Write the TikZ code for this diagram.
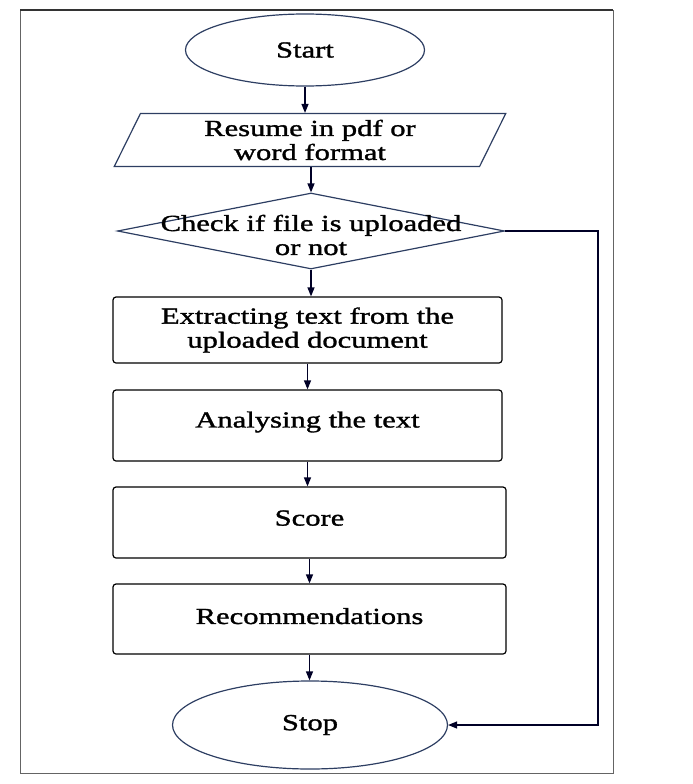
\documentclass[tikz,border=0pt]{standalone}
\usepackage{fontspec}
\setmainfont{Liberation Serif}[FakeStretch=1.33, FakeBold=1.4]
\usetikzlibrary{shapes.geometric,arrows.meta}
\definecolor{edgeblue}{RGB}{45,62,98}
\definecolor{framegray}{RGB}{100,100,100}
\begin{document}
\begin{tikzpicture}[
        x=1pt, y=-1pt,
        every node/.style={font=\fontsize{23}{24}\selectfont, align=center,
            line width=1.2pt, inner sep=0pt},
        term/.style={ellipse, draw=edgeblue},
        io/.style={trapezium, draw=edgeblue, trapezium left angle=68,
            trapezium right angle=112, trapezium stretches=true},
        decide/.style={diamond, draw=edgeblue},
        proc/.style={rectangle, draw=black, rounded corners=3pt,
            minimum width=#1},
        proc/.default=389pt,
        flow/.style={draw=black!85!blue, line width=1.2pt,
            -{Triangle[length=9pt, width=7pt]}}
    ]
        \useasboundingbox (0, 0) rectangle (693, 784);
        \draw[framegray, line width=1pt] (20, 10) -- (20, 773) -- (613, 773) -- (613, 10);
        \draw[black!80, line width=1.2pt] (20, 10) -- (613, 10);
        \node[term, minimum width=239pt, minimum height=72pt] (start) at (305, 50) {Start};
        \node[io, minimum width=392pt, minimum height=53pt] (resume) at (310, 140)
            {Resume in pdf or\\word format};
        \node[decide, minimum width=387pt, minimum height=76pt,
            label={[yshift=-4pt]center:{Check if file is uploaded\\or not}}] (check) at (311, 231) {\strut};
        \node[proc, minimum height=66pt] (extract) at (307.5, 330)
            {Extracting text from the\\uploaded document};
        \node[proc, minimum height=71pt, text depth=12pt] (analyse) at (307.5, 425.5) {Analysing the text};
        \node[proc=393pt, minimum height=71pt, text depth=9pt] (score) at (309.5, 522.5) {Score};
        \node[proc=393pt, minimum height=70pt, text depth=6pt] (recom) at (309.5, 619) {Recommendations};
        \node[term, minimum width=275pt, minimum height=88pt] (stop) at (310, 725) {Stop};
        \coordinate (side) at (598, 0);
        \draw[flow] (start.south) -- (start.south |- resume.north);
        \draw[flow] (resume.south -| check.north) -- (check.north);
        \draw[flow] (check.south) -- (check.south |- extract.north);
        \draw[flow] (extract.south) -- (extract.south |- analyse.north);
        \draw[flow] (analyse.south) -- (analyse.south |- score.north);
        \draw[flow] (score.south) -- (score.south |- recom.north);
        \draw[flow] (recom.south) -- (recom.south |- stop.north);
        \draw[flow] (check.east) -- (check.east -| side) |- (stop.east);
    \end{tikzpicture}
\end{document}
